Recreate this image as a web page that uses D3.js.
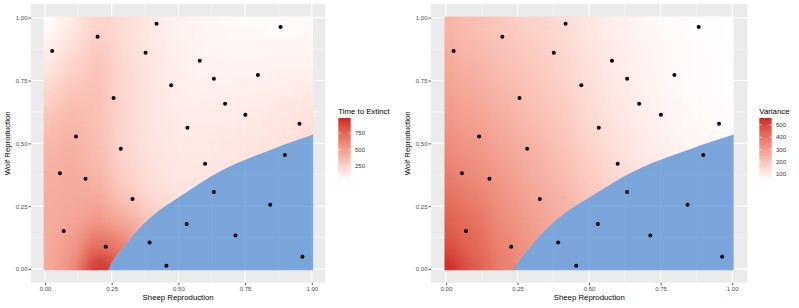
<!DOCTYPE html>
<html>
<head>
<meta charset="utf-8">
<script src="https://cdn.jsdelivr.net/npm/d3@7"></script>
<style>
  body { margin: 0; background: #fff; }
  text { font-family: "Liberation Sans", Arial, sans-serif; }
</style>
</head>
<body>
<svg id="chart" width="799" height="308"></svg>
<script>

/********************** DATA **********************/

// grid positions of the emulator output (both axes)
var gridSteps = [0, 0.1, 0.2, 0.3, 0.4, 0.5, 0.6, 0.7, 0.8, 0.9, 1.0];

// time to extinction, rows = wolf reproduction 0 -> 1, cols = sheep reproduction 0 -> 1
var extinctGrid = [
  [432, 564, 961, 791, 432, 243, 186, 186, 196, 215, 233],
  [432, 508, 715, 621, 375, 224, 177, 186, 196, 215, 233],
  [432, 460, 526, 432, 300, 196, 167, 177, 186, 205, 224],
  [422, 441, 432, 300, 205, 167, 158, 167, 177, 196, 215],
  [413, 432, 375, 243, 177, 148, 148, 158, 167, 186, 205],
  [375, 413, 347, 224, 167, 139, 139, 148, 158, 177, 196],
  [319, 375, 337, 224, 158, 130, 130, 130, 139, 158, 177],
  [224, 319, 328, 224, 158, 120, 111, 111, 120, 130, 139],
  [148, 243, 319, 215, 148, 111, 92, 92, 92, 101, 101],
  [82, 177, 281, 196, 139, 101, 82, 73, 73, 73, 73],
  [35, 130, 243, 196, 139, 101, 82, 63, 63, 54, 54]
];
var extinctRange = [35, 980];
var extinctTicks = [250, 500, 750];

// variance, same layout
var varianceGrid = [
  [556, 455, 375, 324, 284, 244, 203, 168, 138, 112, 92],
  [480, 430, 364, 314, 274, 228, 188, 153, 128, 102, 87],
  [445, 405, 344, 299, 259, 208, 173, 138, 118, 92, 77],
  [405, 370, 324, 279, 244, 193, 158, 123, 102, 82, 72],
  [375, 339, 299, 259, 223, 178, 143, 112, 92, 77, 67],
  [344, 314, 279, 244, 208, 163, 128, 102, 82, 72, 62],
  [314, 289, 259, 223, 193, 148, 118, 92, 77, 67, 62],
  [294, 269, 238, 208, 178, 138, 107, 87, 72, 62, 57],
  [274, 249, 218, 193, 163, 128, 102, 82, 67, 62, 57],
  [254, 228, 203, 178, 153, 118, 97, 77, 67, 57, 52],
  [238, 213, 188, 163, 143, 112, 92, 72, 62, 57, 52]
];
var varianceRange = [52, 556];
var varianceTicks = [100, 200, 300, 400, 500];

// edge of the extinct (blue) region: [sheep, wolf]
var boundary = [
  [0.235, -0.005], [0.25, 0.025], [0.27, 0.055], [0.30, 0.095], [0.33, 0.135],
  [0.37, 0.18], [0.41, 0.218], [0.45, 0.25], [0.49, 0.278], [0.53, 0.305],
  [0.59, 0.347], [0.65, 0.385], [0.72, 0.422], [0.79, 0.452], [0.86, 0.48],
  [0.93, 0.507], [1.005, 0.535]
];

// design points: [sheep, wolf]
var samplePoints = [
  [0.027, 0.867], [0.197, 0.924], [0.418, 0.976], [0.377, 0.861], [0.580, 0.829],
  [0.883, 0.963], [0.633, 0.757], [0.473, 0.731], [0.798, 0.772], [0.257, 0.680],
  [0.675, 0.658], [0.751, 0.614], [0.954, 0.578], [0.534, 0.562], [0.116, 0.527],
  [0.284, 0.479], [0.056, 0.381], [0.152, 0.359], [0.600, 0.419], [0.899, 0.454],
  [0.328, 0.279], [0.633, 0.306], [0.844, 0.256], [0.070, 0.151], [0.531, 0.179],
  [0.714, 0.133], [0.228, 0.089], [0.392, 0.105], [0.455, 0.013], [0.965, 0.049]
];

var axisTicks = [0, 0.25, 0.5, 0.75, 1];
var minorTicks = [0.125, 0.375, 0.625, 0.875];
var tileExtent = [-0.005, 1.005];

/********************** DRAW **********************/

var svg = d3.select("#chart");
var defs = svg.append("defs");

// smooth the coarse grid into a continuous surface
var filter = defs.append("filter")
  .attr("id", "soften")
  .attr("color-interpolation-filters", "sRGB")
  .attr("x", "-10%").attr("y", "-10%")
  .attr("width", "120%").attr("height", "120%");
filter.append("feGaussianBlur").attr("stdDeviation", 9);
filter.append("feComponentTransfer")
  .append("feFuncA").attr("type", "linear").attr("slope", 50);

var panelTop = 4, panelBottom = 282.7;

function drawPanel(p) {

  var x = d3.scaleLinear().domain([0, 1]).range([p.x0, p.x1]);
  var y = d3.scaleLinear().domain([0, 1]).range([269, 17.7]);
  var color = d3.scaleLinear()
    .domain(p.range)
    .range(["#FFFFFF", "#CD2626"])
    .interpolate(d3.interpolateLab)
    .clamp(true);

  var g = svg.append("g");

  // panel background
  g.append("rect")
    .attr("x", p.left).attr("y", panelTop)
    .attr("width", p.right - p.left).attr("height", panelBottom - panelTop)
    .attr("fill", "#EBEBEB");

  // grid lines
  g.selectAll(".vminor").data(minorTicks).enter().append("line")
    .attr("x1", function (d) { return x(d); }).attr("x2", function (d) { return x(d); })
    .attr("y1", panelTop).attr("y2", panelBottom)
    .attr("stroke", "#F8F8F8").attr("stroke-width", 0.6);
  g.selectAll(".hminor").data(minorTicks).enter().append("line")
    .attr("y1", function (d) { return y(d); }).attr("y2", function (d) { return y(d); })
    .attr("x1", p.left).attr("x2", p.right)
    .attr("stroke", "#F8F8F8").attr("stroke-width", 0.6);
  g.selectAll(".vmajor").data(axisTicks).enter().append("line")
    .attr("x1", function (d) { return x(d); }).attr("x2", function (d) { return x(d); })
    .attr("y1", panelTop).attr("y2", panelBottom)
    .attr("stroke", "#FFFFFF").attr("stroke-width", 1.1);
  g.selectAll(".hmajor").data(axisTicks).enter().append("line")
    .attr("y1", function (d) { return y(d); }).attr("y2", function (d) { return y(d); })
    .attr("x1", p.left).attr("x2", p.right)
    .attr("stroke", "#FFFFFF").attr("stroke-width", 1.1);

  // clip for the surface: everything above the extinction edge
  var clipId = "clip-" + p.id;
  var upper = d3.area()
    .x(function (d) { return x(d[0]); })
    .y0(y(tileExtent[1]))
    .y1(function (d) { return y(d[1]); })
    .curve(d3.curveMonotoneX);
  defs.append("clipPath").attr("id", clipId)
    .append("path")
    .attr("d", upper([[tileExtent[0], tileExtent[0]]].concat(boundary)));

  var cells = [];
  p.grid.forEach(function (row, j) {
    row.forEach(function (v, i) {
      cells.push({ gx: gridSteps[i], gy: gridSteps[j], v: v });
    });
  });

  var half = 0.05;
  g.append("g")
    .attr("clip-path", "url(#" + clipId + ")")
    .append("g")
    .attr("filter", "url(#soften)")
    .selectAll("rect")
    .data(cells)
    .enter()
    .append("rect")
    .attr("x", function (d) { return x(d.gx - half); })
    .attr("y", function (d) { return y(d.gy + half); })
    .attr("width", function (d) { return x(d.gx + half) - x(d.gx - half) + 0.5; })
    .attr("height", function (d) { return y(d.gy - half) - y(d.gy + half) + 0.5; })
    .attr("fill", function (d) { return color(d.v); });

  // extinct region
  var lower = d3.area()
    .x(function (d) { return x(d[0]); })
    .y0(y(tileExtent[0]))
    .y1(function (d) { return y(d[1]); })
    .curve(d3.curveMonotoneX);
  g.append("path")
    .attr("d", lower(boundary))
    .attr("fill", "#4A88D3")
    .attr("fill-opacity", 0.7);

  // design points
  g.selectAll(".pt").data(samplePoints).enter().append("circle")
    .attr("cx", function (d) { return x(d[0]); })
    .attr("cy", function (d) { return y(d[1]); })
    .attr("r", 2)
    .attr("fill", "#000");

  // axes
  var xAxis = g.append("g")
    .attr("transform", "translate(0," + panelBottom + ")")
    .call(d3.axisBottom(x).tickValues(axisTicks).tickFormat(d3.format(".2f")).tickSize(2.5).tickPadding(1.5));
  var yAxis = g.append("g")
    .attr("transform", "translate(" + p.left + ",0)")
    .call(d3.axisLeft(y).tickValues(axisTicks).tickFormat(d3.format(".2f")).tickSize(2.5).tickPadding(1));
  [xAxis, yAxis].forEach(function (a) {
    a.select(".domain").remove();
    a.selectAll("line").attr("stroke", "#333333").attr("stroke-width", 0.8);
    a.selectAll("text")
      .attr("fill", "#4D4D4D")
      .style("font-size", "6px")
      .style("font-family", "Liberation Sans, Arial, sans-serif");
  });

  g.append("text")
    .attr("x", (p.left + p.right) / 2).attr("y", 299.8)
    .attr("text-anchor", "middle")
    .style("font-size", "7.8px")
    .text("Sheep Reproduction");

  g.append("text")
    .attr("transform", "translate(" + (p.left - 21.3) + "," + ((panelTop + panelBottom) / 2) + ") rotate(-90)")
    .attr("text-anchor", "middle")
    .style("font-size", "7.8px")
    .text("Wolf Reproduction");

  /*************** legend ***************/
  var barTop = 118, barBottom = 180, barW = 12.4;
  var ly = d3.scaleLinear().domain(p.range).range([barBottom, barTop]);
  var gradId = "grad-" + p.id;
  var grad = defs.append("linearGradient").attr("id", gradId)
    .attr("x1", 0).attr("y1", 1).attr("x2", 0).attr("y2", 0);
  grad.selectAll("stop").data(d3.range(0, 1.0001, 0.05)).enter().append("stop")
    .attr("offset", function (d) { return d; })
    .attr("stop-color", function (d) { return color(p.range[0] + d * (p.range[1] - p.range[0])); });

  var lg = svg.append("g").attr("transform", "translate(" + p.legendX + ",0)");
  lg.append("text")
    .attr("x", 0).attr("y", 113.8)
    .style("font-size", "7.8px")
    .text(p.title);
  lg.append("rect")
    .attr("x", 0).attr("y", barTop)
    .attr("width", barW).attr("height", barBottom - barTop)
    .attr("fill", "url(#" + gradId + ")");
  lg.selectAll(".tl").data(p.ticks).enter().append("line")
    .attr("x1", 0).attr("x2", 2.5)
    .attr("y1", function (d) { return ly(d); }).attr("y2", function (d) { return ly(d); })
    .attr("stroke", "#fff").attr("stroke-width", 0.6);
  lg.selectAll(".tr").data(p.ticks).enter().append("line")
    .attr("x1", barW - 2.5).attr("x2", barW)
    .attr("y1", function (d) { return ly(d); }).attr("y2", function (d) { return ly(d); })
    .attr("stroke", "#fff").attr("stroke-width", 0.6);
  lg.selectAll(".lab").data(p.ticks).enter().append("text")
    .attr("x", barW + 4.3)
    .attr("y", function (d) { return ly(d); })
    .attr("dy", "0.35em")
    .attr("fill", "#333")
    .style("font-size", "6px")
    .text(function (d) { return d; });
}

drawPanel({
  id: "extinct", left: 31, right: 325.3, x0: 45, x1: 311.8,
  grid: extinctGrid, range: extinctRange, ticks: extinctTicks,
  title: "Time to Extinct", legendX: 338.3
});

drawPanel({
  id: "variance", left: 431, right: 747.5, x0: 445.9, x1: 732.2,
  grid: varianceGrid, range: varianceRange, ticks: varianceTicks,
  title: "Variance", legendX: 759.3
});

</script>
</body>
</html>
